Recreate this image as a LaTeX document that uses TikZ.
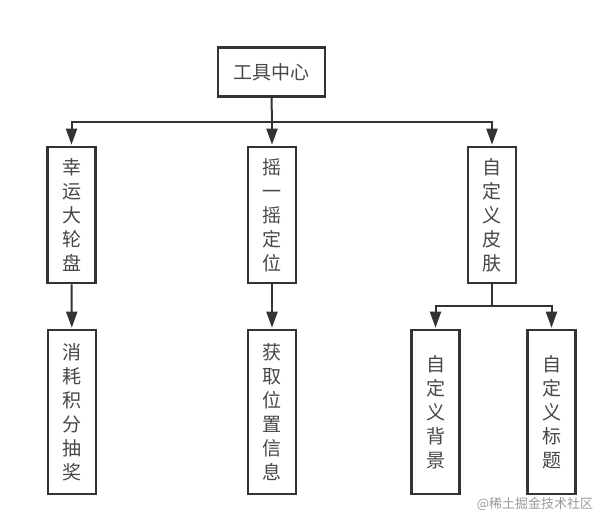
\documentclass[tikz,border=0pt]{standalone}
\usepackage{fontspec}
\newfontfamily\cjk{Noto Sans CJK SC}
\usetikzlibrary{arrows.meta}
\definecolor{ink}{HTML}{333333}
\tikzset{
  box/.style={draw=ink, line width=2.6pt, fill=white, inner sep=0pt, font=\cjk\fontsize{19}{24}\selectfont, text=ink!90, align=center},
  wire/.style={draw=ink, line width=2pt},
  arr/.style={wire, -{Triangle[length=16pt,width=11pt]}, shorten >=1pt}
}
\begin{document}
\begin{tikzpicture}[x=1pt,y=-1pt]
\useasboundingbox (0,0) rectangle (607,526);
\node[box, minimum width=107pt, minimum height=49pt] (top) at (271.5,72) {工具中心};
\node[box, minimum width=48pt, minimum height=136pt] (m1) at (71.5,215) {幸\\运\\大\\轮\\盘};
\node[box, minimum width=48pt, minimum height=136pt] (m2) at (272,215) {摇\\一\\摇\\定\\位};
\node[box, minimum width=48pt, minimum height=136pt] (m3) at (492,215) {自\\定\\义\\皮\\肤};
\node[box, minimum width=48pt, minimum height=164pt] (b1) at (72,412) {消\\耗\\积\\分\\抽\\奖};
\node[box, minimum width=48pt, minimum height=164pt] (b2) at (272,412) {获\\取\\位\\置\\信\\息};
\node[box, minimum width=48pt, minimum height=164pt] (b3) at (435.5,412) {自\\定\\义\\背\\景};
\node[box, minimum width=48pt, minimum height=164pt] (b4) at (551.5,412) {自\\定\\义\\标\\题};
\coordinate (j1) at (272,122);
\coordinate (j2) at (492,306);
\draw[wire] (top.south) -- (j1);
\draw[arr] (j1) -| (m1);
\draw[arr] (j1) -- (m2);
\draw[arr] (j1) -| (m3);
\draw[arr] (m1) -- (b1);
\draw[arr] (m2) -- (b2);
\draw[wire] (m3.south) -- (j2);
\draw[arr] (j2) -| (b3);
\draw[arr] (j2) -| (b4);
\node[font=\cjk\fontsize{13}{15}\selectfont, text=black!40, inner sep=0pt] (wm) at (535,504) {@稀土掘金技术社区};
\end{tikzpicture}
\end{document}
